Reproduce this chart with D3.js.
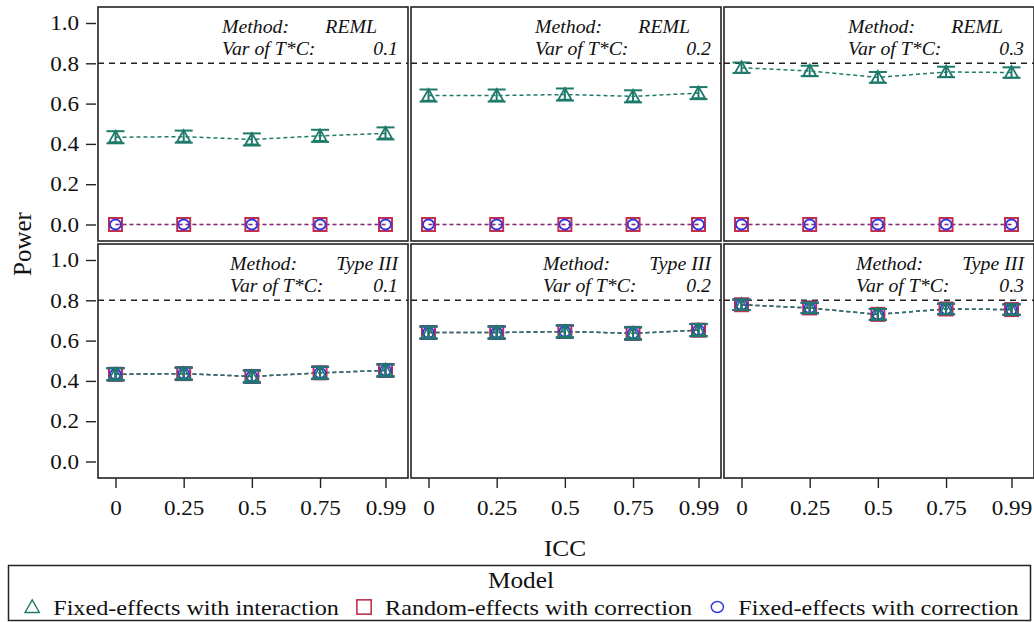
<!DOCTYPE html>
<html>
<head>
<meta charset="utf-8">
<script src="https://cdn.jsdelivr.net/npm/d3@7"></script>
<style>
  body { margin: 0; background: #fff; }
  svg { display: block; }
  text { font-family: "Liberation Serif", "Times New Roman", serif; fill: #111; }
</style>
</head>
<body>
<svg id="chart" width="1034" height="622"></svg>
<script>
// ---- data ----
const iccLevels = [0, 0.25, 0.5, 0.75, 0.99];
const iccTickLabels = ["0", "0.25", "0.5", "0.75", "0.99"];
const powerTicks = [0, 0.2, 0.4, 0.6, 0.8, 1.0];
const varTC = ["0.1", "0.2", "0.3"];
const methods = ["REML", "Type III"];
const targetPower = 0.8;
const modelNames = ["Fixed-effects with interaction", "Random-effects with correction", "Fixed-effects with correction"];

// Fixed-effects with interaction, by Var of T*C
const fixedInteraction_01 = [0.433, 0.436, 0.422, 0.440, 0.452];
const fixedInteraction_02 = [0.640, 0.640, 0.645, 0.636, 0.652];
const fixedInteraction_03 = [0.778, 0.762, 0.730, 0.757, 0.754];

// Random-effects with correction
const randomCorrREML_01 = [0, 0, 0, 0, 0];
const randomCorrREML_02 = [0, 0, 0, 0, 0];
const randomCorrREML_03 = [0, 0, 0, 0, 0];
const randomCorrTypeIII_01 = [0.433, 0.436, 0.422, 0.440, 0.452];
const randomCorrTypeIII_02 = [0.640, 0.640, 0.645, 0.636, 0.652];
const randomCorrTypeIII_03 = [0.778, 0.762, 0.730, 0.757, 0.754];

// Fixed-effects with correction
const fixedCorrREML_01 = [0, 0, 0, 0, 0];
const fixedCorrREML_02 = [0, 0, 0, 0, 0];
const fixedCorrREML_03 = [0, 0, 0, 0, 0];
const fixedCorrTypeIII_01 = [0.433, 0.436, 0.422, 0.440, 0.452];
const fixedCorrTypeIII_02 = [0.640, 0.640, 0.645, 0.636, 0.652];
const fixedCorrTypeIII_03 = [0.778, 0.762, 0.730, 0.757, 0.754];

// 95% CI half-widths
const ciHalf_01 = [0.030, 0.030, 0.030, 0.030, 0.030];
const ciHalf_02 = [0.030, 0.030, 0.030, 0.030, 0.030];
const ciHalf_03 = [0.026, 0.026, 0.027, 0.026, 0.026];
const ciZero = [0, 0, 0, 0, 0];

// ---- panel table ----
const fixedInteraction = [fixedInteraction_01, fixedInteraction_02, fixedInteraction_03];
const randomCorr = {
  "REML": [randomCorrREML_01, randomCorrREML_02, randomCorrREML_03],
  "Type III": [randomCorrTypeIII_01, randomCorrTypeIII_02, randomCorrTypeIII_03]
};
const fixedCorr = {
  "REML": [fixedCorrREML_01, fixedCorrREML_02, fixedCorrREML_03],
  "Type III": [fixedCorrTypeIII_01, fixedCorrTypeIII_02, fixedCorrTypeIII_03]
};
const ciHalf = [ciHalf_01, ciHalf_02, ciHalf_03];

const panels = [];
methods.forEach((m, r) => {
  varTC.forEach((v, c) => {
    const ciCorr = m === "REML" ? ciZero : ciHalf[c];
    panels.push({
      row: r, col: c, method: m, variance: v,
      series: [
        { model: 1, values: randomCorr[m][c], ci: ciCorr },
        { model: 2, values: fixedCorr[m][c], ci: ciCorr },
        { model: 0, values: fixedInteraction[c], ci: ciHalf[c] }
      ]
    });
  });
});

// ---- layout & styles ----
const S = 1.1; // horizontal glyph stretch
const colLeft = [98, 411, 724];
const rowTop = [7, 244];
const pw = 310, ph = 234;
const colors = ["#1e7a6a", "#c3304f", "#3535dc"];
const lineColors = ["#1e7a6a", "#a82c5a", "#3535dc"];

const x = d3.scaleLinear().domain([0, 0.99]).range([17.5, 287.5]);
const y = d3.scaleLinear().domain([0, 1]).range([217.5, 16]);

const svg = d3.select("#chart");

function stretch(sel) {
  sel.each(function () {
    const t = d3.select(this);
    const tx = +t.attr("x") || 0, ty = +t.attr("y") || 0;
    t.attr("x", 0).attr("y", 0).attr("transform", `translate(${tx},${ty}) scale(${S},1)`);
  });
}

function drawMarker(g, model, size, sw) {
  const k = size || 1;
  const w = sw || 1.8;
  if (model === 0) {
    g.append("path")
      .attr("d", `M0,${-6.5 * k}L${6.5 * k},${5 * k}L${-6.5 * k},${5 * k}Z`)
      .attr("fill", "none").attr("stroke", colors[0]).attr("stroke-width", w);
  } else if (model === 1) {
    g.append("rect")
      .attr("x", -6.5 * k).attr("y", -6.5 * k).attr("width", 13 * k).attr("height", 13 * k)
      .attr("fill", "none").attr("stroke", colors[1]).attr("stroke-width", w + 0.2);
  } else {
    g.append("ellipse")
      .attr("rx", 5.5 * k).attr("ry", 5 * k)
      .attr("fill", "none").attr("stroke", colors[2]).attr("stroke-width", w);
  }
}

const line = d3.line().x((d, i) => x(iccLevels[i])).y(d => y(d));

panels.forEach(p => {
  const g = svg.append("g").attr("transform", `translate(${colLeft[p.col]},${rowTop[p.row]})`);

  // reference power line
  g.append("line")
    .attr("x1", 0).attr("x2", pw).attr("y1", y(targetPower)).attr("y2", y(targetPower))
    .attr("stroke", "#222").attr("stroke-width", 1.4).attr("stroke-dasharray", "6,5");

  // dashed series lines
  p.series.forEach(s => {
    g.append("path").datum(s.values)
      .attr("d", line)
      .attr("fill", "none")
      .attr("stroke", lineColors[s.model])
      .attr("stroke-opacity", s.model === 2 ? 0.3 : 1)
      .attr("stroke-width", 1.5)
      .attr("stroke-dasharray", "4,3");
  });

  // error bars and markers
  p.series.forEach(s => {
    s.values.forEach((v, i) => {
      const cx = x(iccLevels[i]);
      const h = s.ci[i];
      if (h > 0) {
        const eb = g.append("g").attr("stroke", colors[s.model]).attr("stroke-width", 2);
        eb.append("line").attr("x1", cx).attr("x2", cx).attr("y1", y(v - h)).attr("y2", y(v + h));
        eb.append("line").attr("x1", cx - 9).attr("x2", cx + 9).attr("y1", y(v - h)).attr("y2", y(v - h));
        eb.append("line").attr("x1", cx - 9).attr("x2", cx + 9).attr("y1", y(v + h)).attr("y2", y(v + h));
      }
      const mg = g.append("g").attr("transform", `translate(${cx},${y(v)})`);
      drawMarker(mg, s.model);
    });
  });

  // panel frame
  g.append("rect")
    .attr("x", 0).attr("y", 0).attr("width", pw).attr("height", ph)
    .attr("fill", "none").attr("stroke", "#222").attr("stroke-width", 1.6);

  // inset labels
  const labelX = p.method === "REML" ? pw - 186 : pw - 178;
  const valueX = p.method === "REML" ? pw - 31 : pw - 10;
  const inset = g.append("g").style("font-style", "italic").style("font-size", "18px");
  inset.append("text").attr("x", labelX).attr("y", 26).text("Method:");
  inset.append("text").attr("x", valueX).attr("y", 26).attr("text-anchor", "end").text(p.method);
  inset.append("text").attr("x", labelX).attr("y", 48).text("Var of T*C:");
  inset.append("text").attr("x", pw - 10).attr("y", 48).attr("text-anchor", "end").text(p.variance);
  stretch(inset.selectAll("text"));
});

// ---- axes ----
rowTop.forEach(top => {
  const ax = svg.append("g")
    .attr("transform", `translate(${colLeft[0] - 2},${top})`)
    .call(d3.axisLeft(y).tickValues(powerTicks).tickFormat(d3.format(".1f")).tickSize(10).tickPadding(7));
  ax.select(".domain").remove();
  ax.selectAll(".tick line").attr("stroke", "#222").attr("stroke-width", 1.4);
  ax.selectAll("text").style("font-size", "21px").style("font-family", "Liberation Serif").attr("fill", "#111");
  stretch(ax.selectAll("text"));
});

colLeft.forEach(left => {
  const ax = svg.append("g")
    .attr("transform", `translate(${left},${rowTop[1] + ph})`)
    .call(d3.axisBottom(x).tickValues(iccLevels).tickFormat((d, i) => iccTickLabels[i]).tickSize(10).tickPadding(12));
  ax.select(".domain").remove();
  ax.selectAll(".tick line").attr("stroke", "#222").attr("stroke-width", 1.4);
  ax.selectAll("text").style("font-size", "21px").style("font-family", "Liberation Serif").attr("fill", "#111");
  stretch(ax.selectAll("text"));
});

// axis titles
const icc = svg.append("text").attr("x", 565).attr("y", 556).attr("text-anchor", "middle")
  .style("font-size", "23px").text("ICC");
stretch(icc);
svg.append("text").attr("transform", "translate(31,244) rotate(-90)").attr("text-anchor", "middle")
  .style("font-size", "25px").text("Power");

// ---- legend ----
const legend = svg.append("g");
legend.append("rect").attr("x", 8.5).attr("y", 565.5).attr("width", 1022).attr("height", 55)
  .attr("fill", "none").attr("stroke", "#222").attr("stroke-width", 1.5);
const title = legend.append("text").attr("x", 521).attr("y", 588).attr("text-anchor", "middle")
  .style("font-size", "23px").text("Model");
stretch(title);

const items = legend.append("g");
let cursor = 0;
modelNames.forEach((name, i) => {
  const mg = items.append("g").attr("transform", `translate(${cursor},607)`);
  drawMarker(mg, i, 1.1, 1.4);
  const t = items.append("text").attr("x", cursor + 21).attr("y", 615).style("font-size", "22px").text(name);
  const w = t.node().getComputedTextLength() * S;
  stretch(t);
  cursor += 21 + w + 25;
});
const span = cursor - 25 + 7;
items.attr("transform", `translate(${522 - span / 2 + 7},0)`);
</script>
</body>
</html>
